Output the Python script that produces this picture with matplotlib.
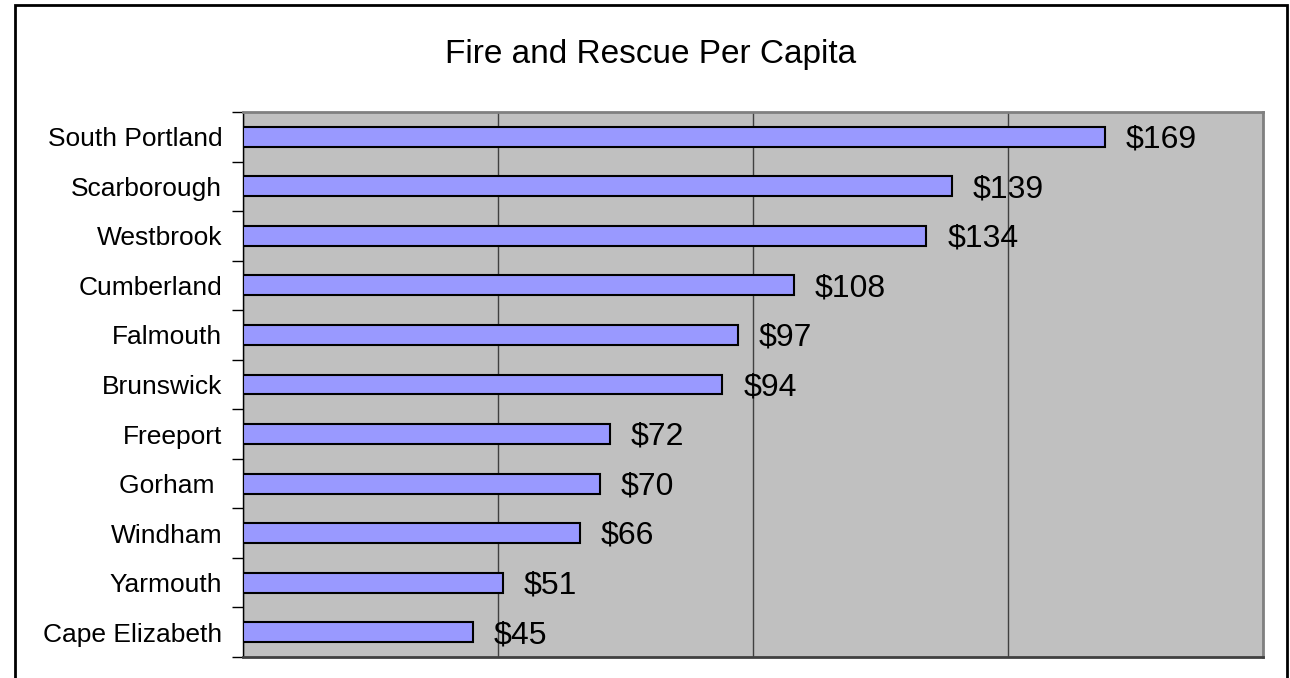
import matplotlib.pyplot as plt
from matplotlib.patches import Rectangle
from matplotlib.ticker import FixedLocator, MultipleLocator

towns = ["Cape Elizabeth", "Yarmouth", "Windham", "Gorham ", "Freeport",
         "Brunswick", "Falmouth", "Cumberland", "Westbrook", "Scarborough",
         "South Portland"]
per_capita = [45, 51, 66, 70, 72, 94, 97, 108, 134, 139, 169]

plt.rcParams['font.family'] = ['Liberation Sans', 'DejaVu Sans']

fig = plt.figure(figsize=(12.9, 6.78), dpi=100)
ax = fig.add_axes([243 / 1290, 1 - 657 / 678, 1020 / 1290, 545 / 678])

# outer chart frame (open at the bottom, as in the original crop)
fig.patches.append(Rectangle((15 / 1290, -0.05), 1272 / 1290, 1.05 - 5 / 678,
                             transform=fig.transFigure, fill=False,
                             edgecolor='black', linewidth=2, clip_on=False))

ax.set_facecolor('#C0C0C0')
ypos = list(range(len(towns)))
ax.barh(ypos, per_capita, height=0.4, color='#9999FF',
        edgecolor='black', linewidth=1.5, zorder=3)

for y, v in zip(ypos, per_capita):
    ax.annotate(f"${v}", (v, y), xytext=(15, -2), textcoords='offset points',
                va='center', ha='left', fontsize=23, zorder=4)

ax.set_xlim(0, 200)
ax.set_ylim(-0.5, len(towns) - 0.5)
ax.xaxis.set_major_locator(MultipleLocator(50))
ax.grid(axis='x', color='#404040', linewidth=1, zorder=1)
ax.tick_params(axis='x', length=0, labelbottom=False)

ax.set_yticks(ypos)
ax.set_yticklabels(towns, fontsize=19)
ax.yaxis.set_minor_locator(FixedLocator([i - 0.5 for i in range(len(towns) + 1)]))
ax.tick_params(axis='y', which='major', length=0, pad=15)
ax.tick_params(axis='y', which='minor', length=8, width=1, color='black', direction='out')

for side in ('top', 'right'):
    ax.spines[side].set_color('#808080')
    ax.spines[side].set_linewidth(2)
ax.spines['left'].set_color('black')
ax.spines['left'].set_linewidth(1)
ax.spines['bottom'].set_color('#404040')
ax.spines['bottom'].set_linewidth(2)

fig.text(651 / 1290, 1 - 55 / 678, "Fire and Rescue Per Capita",
         ha='center', va='center', fontsize=24)

fig.savefig("out.png", dpi=100)
